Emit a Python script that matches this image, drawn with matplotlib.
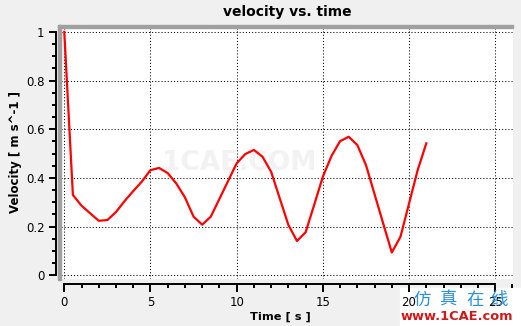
import matplotlib
matplotlib.use("Agg")
import matplotlib.pyplot as plt
from matplotlib.patches import Rectangle
from matplotlib.ticker import MultipleLocator

# velocity samples, every 0.5 s
time_s = [0, 0.5, 1, 1.5, 2, 2.5, 3, 3.5, 4, 4.5, 5, 5.5, 6, 6.5, 7, 7.5, 8,
          8.5, 9, 9.5, 10, 10.5, 11, 11.5, 12, 12.5, 13, 13.5, 14, 14.5, 15,
          15.5, 16, 16.5, 17, 17.5, 18, 18.5, 19, 19.5, 20, 20.5, 21]
velocity = [1.0, 0.33, 0.286, 0.255, 0.224, 0.227, 0.26, 0.305, 0.346, 0.385,
            0.432, 0.441, 0.42, 0.377, 0.32, 0.241, 0.208, 0.241, 0.314, 0.387,
            0.46, 0.498, 0.515, 0.487, 0.425, 0.316, 0.207, 0.141, 0.177, 0.29,
            0.405, 0.49, 0.551, 0.569, 0.535, 0.453, 0.333, 0.213, 0.094, 0.158,
            0.295, 0.432, 0.542]

W, H = 521, 326


def fx(px):
    return px / W


def fy(py):
    return 1 - py / H


fig = plt.figure(figsize=(W / 100, H / 100), dpi=100, facecolor="#f0f0f0")
ax = fig.add_axes([fx(61), fy(279), fx(513) - fx(61), fy(27) - fy(279)])
ax.set_facecolor("white")

# faint watermark in the plot area
ax.text(0.395, 0.46, "1CAE.COM", transform=ax.transAxes, fontsize=19,
        fontweight="bold", color="#f2f2f2", ha="center", va="center", zorder=0)

ax.plot(time_s, velocity, color="red", lw=1.6, zorder=3)

ax.set_xlim(-0.19, 26.03)
ax.set_ylim(-0.015, 1.0197)
ax.xaxis.set_major_locator(MultipleLocator(5))
ax.xaxis.set_minor_locator(MultipleLocator(1))
ax.yaxis.set_major_locator(MultipleLocator(0.2))
ax.yaxis.set_minor_locator(MultipleLocator(0.05))
ax.set_yticks([0, 0.2, 0.4, 0.6, 0.8, 1.0])
ax.set_yticklabels(["0", "0.2", "0.4", "0.6", "0.8", "1"])
ax.grid(True, which="major", color="black", lw=0.75, linestyle=(0, (1, 2)))

for s in ["top", "right"]:
    ax.spines[s].set_visible(False)
ax.spines["left"].set_position(("outward", 3.6))
ax.spines["left"].set_bounds(0, 1)
ax.spines["bottom"].set_position(("outward", 3.8))
ax.spines["bottom"].set_bounds(0, 25)
for s in ["left", "bottom"]:
    ax.spines[s].set_linewidth(1.4)

ax.tick_params(axis="y", which="major", length=5.2, width=1.4, labelsize=8.5, pad=3)
ax.tick_params(axis="y", which="minor", length=3, width=1.4)
ax.tick_params(axis="x", which="major", length=5.8, width=1.4, labelsize=8.5, pad=3)
ax.tick_params(axis="x", which="minor", length=3.2, width=1.4)

# gray frame on top and left of the plot area
fig.patches.append(Rectangle((fx(58), fy(27.5)), fx(513) - fx(58), fy(25) - fy(27.5),
                             transform=fig.transFigure, color="#a0a0a0", zorder=5))
fig.patches.append(Rectangle((fx(58), fy(280)), fx(61) - fx(58), fy(25) - fy(280),
                             transform=fig.transFigure, color="#a0a0a0", zorder=5))

fig.text(fx(287), fy(12), "velocity vs. time", fontsize=10, fontweight="bold",
         ha="center", va="center")
fig.text(fx(280), fy(317), "Time [ s ]", fontsize=8.2, fontweight="bold",
         ha="center", va="center")
fig.text(fx(16), fy(152), "Velocity [ m s^-1 ]", fontsize=8.5, fontweight="bold",
         ha="center", va="center", rotation=90)

# corner watermark
fig.patches.append(Rectangle((fx(400), 0), 1 - fx(400), fy(288),
                             transform=fig.transFigure, color="white", zorder=-1))
for ch, cx in zip("仿真在线", [422, 448, 475, 499]):
    fig.text(fx(cx), fy(300), ch, fontsize=12.5, color="#2a8fe0", ha="center",
             va="center", family=["Noto Sans CJK SC", "DejaVu Sans"], zorder=10)
fig.text(fx(457), fy(316), "www.1CAE.com", fontsize=9.4, fontweight="bold",
         color="#d01818", ha="center", va="center", zorder=10)

fig.savefig("out.png", dpi=100, facecolor=fig.get_facecolor())
